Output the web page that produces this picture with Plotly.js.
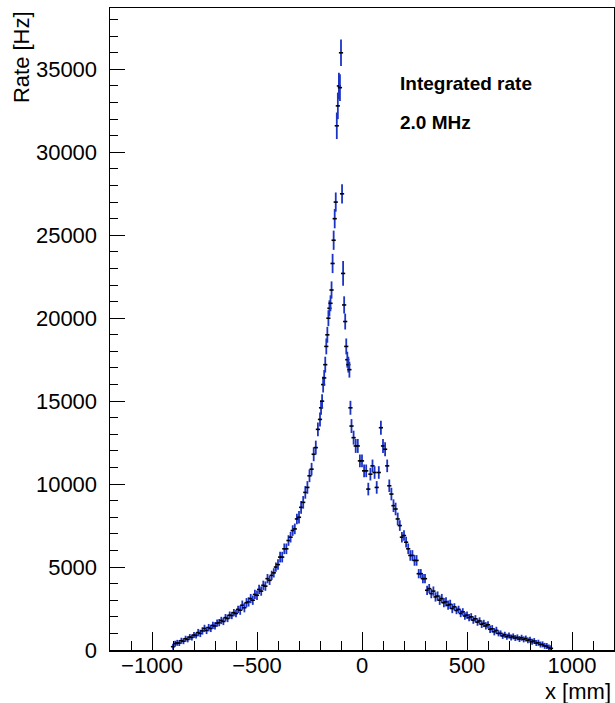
<!DOCTYPE html>
<html>
<head>
<meta charset="utf-8">
<script src="https://cdn.plot.ly/plotly-3.0.1.min.js"></script>
<style>html,body{margin:0;padding:0;background:#fff;}#chart{width:615px;height:703px;}</style>
</head>
<body>
<div id="chart"></div>
<script>
// bin centres [mm]
var x_mm = [
-900,-890,-880,-870,-860,-850,-840,-830,-820,-810,
-800,-790,-780,-770,-760,-750,-740,-730,-720,-710,
-700,-690,-680,-670,-660,-650,-640,-630,-620,-610,
-600,-590,-580,-570,-560,-550,-540,-530,-520,-510,
-500,-490,-480,-470,-460,-450,-440,-430,-420,-410,
-400,-390,-380,-370,-360,-350,-340,-330,-320,-310,
-300,-290,-280,-270,-260,-250,-240,-230,-220,-210,
-200,-195,-190,-185,-180,-175,-170,-165,-160,-155,-150,
-145,-140,-135,-130,-125,
-120,-115,-110,-105,-100,
-95,-90,-85,-80,-75,-70,-65,-60,-55,-50,
-40,-30,-20,-10,0,
10,20,30,40,50,60,70,80,90,
100,110,120,130,140,150,160,170,180,190,
200,210,220,230,240,250,260,270,280,290,
300,310,320,330,340,350,360,370,380,390,
400,410,420,430,440,450,460,470,480,490,
500,510,520,530,540,550,560,570,580,590,
600,610,620,630,640,650,660,670,680,690,
700,710,720,730,740,750,760,770,780,790,
800,810,820,830,840,850,860,870,880,890,900
];
// rate [Hz]
var rate_hz = [
200,380,430,420,560,530,680,640,780,760,
900,880,1050,1000,1150,1300,1180,1350,1300,1480,
1450,1620,1650,1780,1720,1950,1900,2100,2080,2250,
2200,2450,2400,2700,2550,2850,2900,3100,3000,3350,
3300,3650,3550,3900,3850,4300,4200,4500,4650,5000,
5150,5600,5600,6100,6100,6600,6800,7200,7300,7900,
8000,8600,8900,9500,9800,10500,10900,11800,12200,13300,
13900,14600,15000,16000,16400,17200,18300,19000,20000,20600,20900,
21700,23300,24700,26000,27000,
31600,32800,34000,33900,36000,
27500,22700,20800,19800,18300,17500,17200,16900,14600,13500,
12800,12300,12300,11400,11400,
10800,10800,9700,10600,11100,10700,9800,10700,13400,
12300,12100,11100,9900,9400,8700,8500,7900,7500,6800,
6900,6500,6100,5700,5700,5400,5400,4600,4600,4300,
4300,3600,3700,3400,3550,3200,3250,3000,3100,2850,
2900,2700,2750,2500,2600,2380,2450,2200,2300,2050,
2100,1950,2000,1800,1880,1680,1750,1550,1600,1450,
1520,1250,1280,1100,1180,1000,1000,850,920,800,
870,760,820,720,760,660,740,640,690,580,
620,500,540,420,440,330,340,250,240,150,100
];
// statistical error on rate [Hz]
var rate_err = [
180,180,180,180,180,180,180,180,180,180,
180,180,220,220,220,220,220,220,220,220,
220,220,220,220,220,220,220,220,220,220,
220,220,280,280,280,280,280,280,280,280,
280,280,280,280,280,280,280,280,280,280,
320,320,320,320,320,320,320,320,320,320,
380,380,380,380,380,380,380,420,420,420,
420,420,420,480,480,480,480,480,480,480,480,
520,580,580,580,580,
800,800,800,800,800,
580,750,520,480,480,480,480,480,420,420,
420,420,420,380,380,
380,380,380,380,380,380,380,380,420,
420,420,380,380,380,380,380,380,320,320,
320,320,320,320,320,320,320,280,280,280,
280,280,280,280,280,280,280,280,280,280,
280,280,280,280,220,220,220,220,220,220,
220,220,220,220,220,220,220,220,220,220,
220,220,220,220,220,180,180,180,180,180,
180,180,180,180,180,180,180,180,180,180,
180,180,180,180,180,180,180,180,180,180,180
];
var halfBin_mm = 10;

var trace = {
  type: 'scatter',
  mode: 'markers',
  x: x_mm,
  y: rate_hz,
  marker: {size: 1, color: 'rgba(0,0,0,0)'},
  error_y: {type: 'data', array: rate_err, visible: true, color: '#1c34c4', thickness: 1.8, width: 0},
  error_x: {type: 'constant', value: halfBin_mm, visible: true, color: '#000000', thickness: 1.6, width: 0},
  hoverinfo: 'x+y'
};

var font = 'Liberation Sans, Arial, Helvetica, sans-serif';
var layout = {
  width: 615, height: 703,
  margin: {l: 110, r: 1, t: 8, b: 53, pad: 0},
  paper_bgcolor: '#ffffff', plot_bgcolor: '#ffffff',
  showlegend: false,
  font: {family: font, color: '#000000', size: 22},
  xaxis: {
    range: [-1200, 1200], showgrid: false, zeroline: false,
    showline: true, mirror: true, linecolor: '#000000', linewidth: 1.5,
    ticks: 'inside', ticklen: 18, tickwidth: 1, tickcolor: '#000000',
    dtick: 500, tick0: 0, tickformat: 'd',
    minor: {dtick: 100, tick0: 0, ticks: 'inside', ticklen: 9, tickwidth: 1, tickcolor: '#000000', showgrid: false},
    tickfont: {family: font, size: 22, color: '#000000'},
    ticklabelstandoff: -5
  },
  yaxis: {
    range: [0, 38700], showgrid: false, zeroline: false,
    showline: true, mirror: true, linecolor: '#000000', linewidth: 1.5,
    ticks: 'inside', ticklen: 15, tickwidth: 1, tickcolor: '#000000',
    dtick: 5000, tick0: 0, tickformat: 'd',
    minor: {dtick: 1000, tick0: 0, ticks: 'inside', ticklen: 8, tickwidth: 1, tickcolor: '#000000', showgrid: false},
    tickfont: {family: font, size: 22, color: '#000000'},
    ticklabelstandoff: 7
  },
  annotations: [
    {text: 'Integrated rate', xref: 'paper', yref: 'paper', x: 0.571, y: 0.883, xanchor: 'left', yanchor: 'middle', showarrow: false, font: {family: font, size: 19, color: '#000000', weight: 'bold'}},
    {text: '2.0 MHz', xref: 'paper', yref: 'paper', x: 0.571, y: 0.821, xanchor: 'left', yanchor: 'middle', showarrow: false, font: {family: font, size: 19, color: '#000000', weight: 'bold'}},
    {text: 'x [mm]', xref: 'paper', yref: 'paper', x: 0.998, y: -0.065, xanchor: 'right', yanchor: 'middle', showarrow: false, font: {family: font, size: 22, color: '#000000'}},
    {text: 'Rate [Hz]', xref: 'paper', yref: 'paper', x: -0.177, y: 0.998, xanchor: 'center', yanchor: 'top', textangle: -90, showarrow: false, font: {family: font, size: 22, color: '#000000'}}
  ]
};

Plotly.newPlot('chart', [trace], layout, {displayModeBar: false, staticPlot: true});
</script>
</body>
</html>
